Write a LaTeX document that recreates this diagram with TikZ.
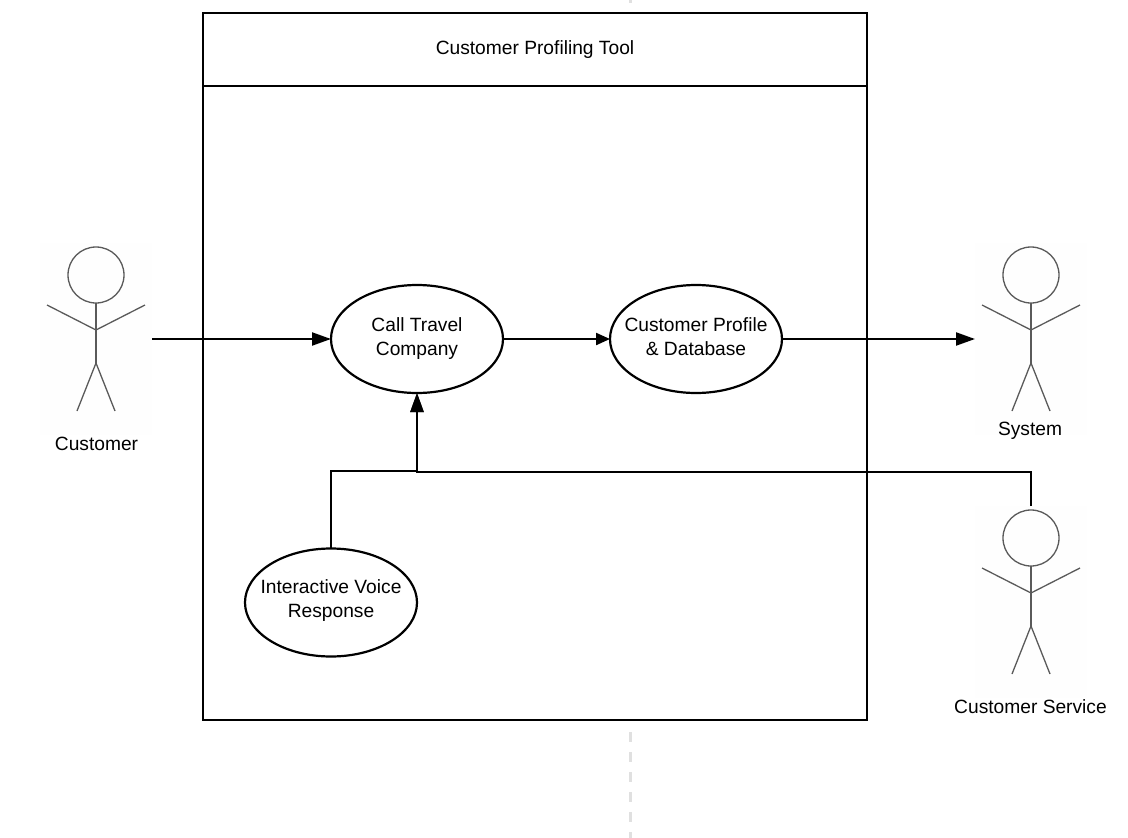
\documentclass[tikz,border=0pt]{standalone}
\usepackage{fontspec}
\setmainfont{Liberation Sans}
\usetikzlibrary{shapes.geometric}
\usetikzlibrary{arrows.meta}
\definecolor{actorgray}{HTML}{5A5A5A}
\definecolor{actorback}{HTML}{FEFEFE}
\definecolor{dashgray}{HTML}{E0E0E0}
\newcommand{\stickman}[1]{
	\begin{scope}[shift={(#1)},draw=actorgray,line width=1.3pt]
	\draw (0,-64) circle (28);
	\draw (0,-36) -- (0,24);
	\draw (-49,-34) -- (0,-9) -- (49,-34);
	\draw (-19,72) -- (0,24) -- (19,72);
	\end{scope}
}
\newcommand{\lift}[1]{\rule[-#1]{0pt}{1pt}}
\begin{document}
\begin{tikzpicture}[
	x=1pt,y=-1pt,
	line width=2.2pt,
	font=\fontsize{19.2}{24}\selectfont
]
\tikzset{
    usecase/.style = {ellipse, draw=black, align=center, fill=white, inner xsep=-40pt, inner ysep=-20pt, outer sep=0pt, minimum width=172pt, minimum height=108pt},
    actorbox/.style = {rectangle, fill=actorback, inner sep=0pt, outer sep=0pt, minimum width=112pt, minimum height=192pt},
    toolbox/.style = {rectangle, draw=black, fill=white, inner sep=0pt, outer sep=0pt, minimum width=664pt},
    pagebreak/.style = {draw=dashgray, line width=3pt, dash pattern=on 10pt off 10pt},
    flow/.style = {-{Triangle[length=19pt,width=13pt]}},
    shortflow/.style = {-{Triangle[length=14pt,width=12pt]}}
}
\useasboundingbox (0,0) rectangle (1128,838);
\coordinate (breaktopa) at (630,0);
\coordinate (breaktopb) at (630,3);
\coordinate (breakbota) at (630,732);
\coordinate (breakbotb) at (630,838);
\draw[pagebreak] (breaktopa) -- (breaktopb);
\draw[pagebreak] (breakbota) -- (breakbotb);
\node[toolbox,minimum height=707pt] (tool) at (535,366.5) {};
\node[toolbox,minimum height=73pt] (toolhead) at (535,49.5) {Customer Profiling Tool};
\node[actorbox] (customer) at (96,339) {};
\node[actorbox] (system) at (1031,339) {};
\node[actorbox] (service) at (1031,602) {};
\stickman{customer}
\stickman{system}
\stickman{service}
\node[] (customerlabel) at (96.5,444) {Customer};
\node[] (systemlabel) at (1030,431) {System};
\node[] (servicelabel) at (1030.5,707) {Customer Service};
\node[usecase] (call) at (417,339) {Call Travel\\Company};
\node[usecase] (profile) at (696,339) {Customer Profile\\\& Database\lift{4pt}};
\node[usecase] (voice) at (331,602.5) {Interactive Voice\\Response\lift{8pt}};
\draw[flow] (customer.east) -- (call.west);
\draw[shortflow] (call.east) -- (profile.west);
\draw[flow] (profile.east) -- (system.west);
\draw[flow] (voice.north) -- (331,471) -- (417,471) -- (call.south);
\draw[flow] (service.north) -- (1031,472) -- (417,472) -- (call.south);
\end{tikzpicture}
\end{document}
